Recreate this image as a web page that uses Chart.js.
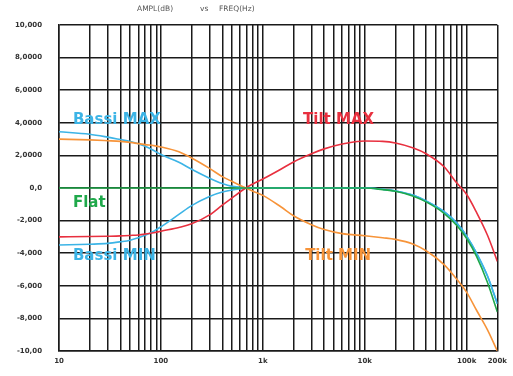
<!DOCTYPE html>
<html>
<head>
<meta charset="utf-8">
<script src="https://cdn.jsdelivr.net/npm/chart.js@4.4.1/dist/chart.umd.min.js"></script>
<style>
  html, body { margin: 0; padding: 0; background: #fff; }
  #wrap { width: 513px; height: 376px; }
</style>
</head>
<body>
<div id="wrap"><canvas id="chart" width="513" height="376"></canvas></div>
<script>
const freqs = [10, 20, 30, 40, 50, 60, 70, 85, 100, 150, 200, 300, 400, 500, 680, 800, 1000, 1500, 2000, 3000, 4000, 6000,
  10000, 15000, 20000, 30000, 40000, 60000, 80000, 100000, 125000, 160000, 200000];

// AMPL (dB) per curve
const bassiMax = [3.45, 3.3, 3.12, 2.97, 2.85, 2.72, 2.56, 2.3, 2.05, 1.58, 1.15, 0.6, 0.27, 0.1, 0.02, 0, 0, 0, 0, 0, 0, 0,
  0, -0.08, -0.18, -0.45, -0.8, -1.45, -2.15, -2.95, -4.0, -5.4, -7.1];
const bassiMin = [-3.5, -3.45, -3.4, -3.3, -3.2, -3.05, -2.9, -2.65, -2.38, -1.62, -1.08, -0.52, -0.25, -0.12, -0.02, 0, 0, 0, 0, 0, 0, 0,
  0, -0.08, -0.18, -0.45, -0.8, -1.45, -2.15, -2.95, -4.0, -5.4, -7.1];
const flat     = [0, 0, 0, 0, 0, 0, 0, 0, 0, 0, 0, 0, 0, 0, 0, 0, 0, 0, 0, 0, 0, 0,
  0, -0.1, -0.2, -0.5, -0.85, -1.55, -2.3, -3.1, -4.2, -5.8, -7.6];
const tiltMax  = [-3.0, -2.98, -2.96, -2.94, -2.91, -2.88, -2.83, -2.75, -2.65, -2.42, -2.2, -1.65, -1.05, -0.6, 0, 0.25, 0.55, 1.15, 1.6, 2.1, 2.4, 2.7,
  2.88, 2.86, 2.76, 2.45, 2.1, 1.3, 0.3, -0.4, -1.5, -2.9, -4.5];
const tiltMin  = [3.0, 2.95, 2.9, 2.86, 2.8, 2.72, 2.66, 2.6, 2.52, 2.22, 1.84, 1.2, 0.7, 0.4, 0, -0.2, -0.45, -1.15, -1.7, -2.25, -2.55, -2.8,
  -2.93, -3.05, -3.15, -3.45, -3.85, -4.7, -5.6, -6.4, -7.5, -8.7, -10];

// axis ticks
const xGridVals = [10,20,30,40,50,60,70,80,90,100,200,300,400,500,600,700,800,900,
  1000,2000,3000,4000,5000,6000,7000,8000,9000,10000,20000,30000,40000,50000,60000,70000,80000,90000,100000,200000];
const xLabels = {10: '10', 100: '100', 1000: '1k', 10000: '10k', 100000: '100k', 200000: '200k'};
const yVals = [10, 8, 6, 4, 2, 0, -2, -4, -6, -8, -10];
const yLabels = ['10,000', '8,0000', '6,0000', '4,0000', '2,0000', '0,0', '-2,000', '-4,000', '-6,000', '-8,000', '-10,00'];

// curve names drawn inside the plot, at (Hz, dB)
const curveNames = [
  { text: 'Bassi MAX', f: 13.7, db: 4.15, color: '#3cb4e6' },
  { text: 'Bassi MIN', f: 13.7, db: -4.15, color: '#3cb4e6' },
  { text: 'Flat', f: 13.7, db: -0.95, color: '#1fa84a' },
  { text: 'Tilt MAX', f: 2480, db: 4.15, color: '#e8303f' },
  { text: 'Tilt MIN', f: 2600, db: -4.15, color: '#f7943a' }
];

const BLUE = '#3cb4e6', RED = '#e8303f', ORANGE = '#f7943a', GREEN = '#1fa84a';

function pts(vals) {
  return freqs.map((f, i) => ({ x: f, y: vals[i] }));
}

const labelPlugin = {
  id: 'curveNames',
  afterDatasetsDraw(chart) {
    const ctx = chart.ctx;
    const xs = chart.scales.x, ys = chart.scales.y;
    ctx.save();
    ctx.font = 'bold 15px "DejaVu Sans"';
    ctx.textAlign = 'left';
    ctx.textBaseline = 'middle';
    curveNames.forEach(n => {
      ctx.fillStyle = n.color;
      ctx.fillText(n.text, xs.getPixelForValue(n.f), ys.getPixelForValue(n.db));
    });
    // heading
    ctx.font = '7.5px "DejaVu Sans"';
    ctx.fillStyle = '#555';
    ctx.fillText('AMPL(dB)', 137, 9);
    ctx.fillText('vs', 200, 9);
    ctx.fillText('FREQ(Hz)', 219, 9);
    ctx.restore();
  }
};

const ds = (label, vals, color) => ({
  label: label,
  data: pts(vals),
  borderColor: color,
  borderWidth: 1.6,
  pointRadius: 0,
  fill: false,
  cubicInterpolationMode: 'monotone'
});

new Chart(document.getElementById('chart'), {
  type: 'line',
  data: {
    datasets: [
      ds('Flat', flat, GREEN),
      ds('Tilt MAX', tiltMax, RED),
      ds('Tilt MIN', tiltMin, ORANGE),
      ds('Bassi MAX', bassiMax, BLUE),
      ds('Bassi MIN', bassiMin, BLUE)
    ]
  },
  options: {
    responsive: false,
    animation: false,
    layout: { padding: { top: 25, right: 14, left: 0, bottom: 0 } },
    plugins: {
      legend: { display: false },
      tooltip: { enabled: false }
    },
    scales: {
      x: {
        type: 'logarithmic',
        min: 10,
        max: 200000,
        afterBuildTicks(scale) {
          scale.ticks = xGridVals.map(v => ({ value: v }));
        },
        afterFit(scale) { scale.height = 25; },
        ticks: {
          autoSkip: false,
          maxRotation: 0,
          padding: 6,
          color: '#333',
          font: { family: 'DejaVu Sans', size: 7, weight: 'bold' },
          callback: (v) => xLabels[v] || ''
        },
        grid: { color: '#1a1a1a', lineWidth: 1.5, drawTicks: false },
        border: { color: '#1a1a1a', width: 1.5 }
      },
      y: {
        type: 'linear',
        min: -10,
        max: 10,
        afterBuildTicks(scale) {
          scale.ticks = yVals.map(v => ({ value: v }));
        },
        afterFit(scale) { scale.width = 59; },
        ticks: {
          padding: 17,
          color: '#333',
          font: { family: 'DejaVu Sans', size: 7, weight: 'bold' },
          callback: (v) => yLabels[yVals.indexOf(v)]
        },
        grid: { color: '#1a1a1a', lineWidth: 1.5, drawTicks: false },
        border: { color: '#1a1a1a', width: 1.5 }
      }
    }
  },
  plugins: [labelPlugin]
});
</script>
</body>
</html>
